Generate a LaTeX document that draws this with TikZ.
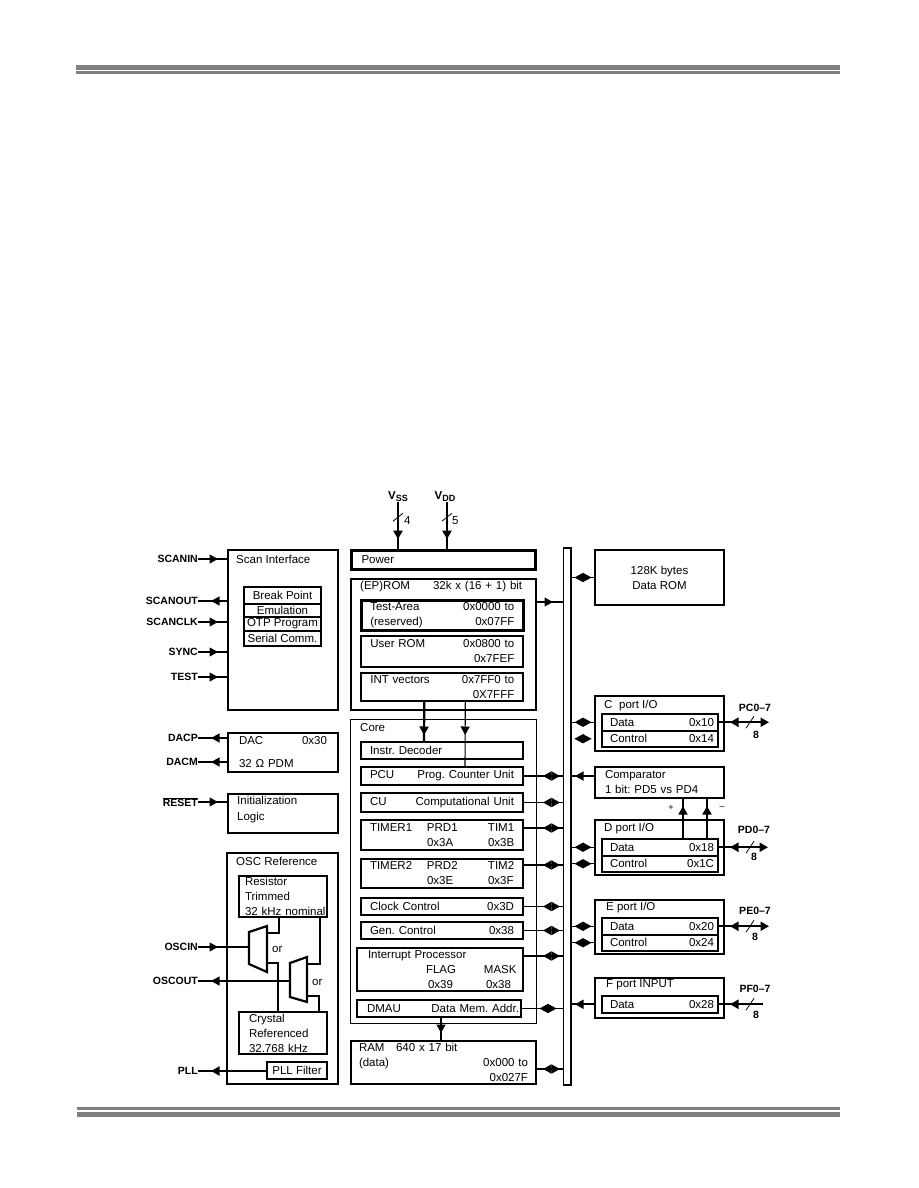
\documentclass[tikz,border=0pt]{standalone}
\usepackage{fontspec}
\setmainfont{Liberation Sans}
\frenchspacing
\usetikzlibrary{arrows.meta,positioning,calc,fit,decorations.markings}
\definecolor{rulegray}{RGB}{128,128,128}
\tikzset{
  tri/.tip={Triangle[length=8.5pt,width=9pt]},
  blk/.style={draw,line width=2pt,anchor=north west,inner sep=0pt,align=left,font=\fontsize{11.5}{15}\selectfont},
  blkthin/.style={blk,line width=1.2pt},
  inbox/.style={blk,minimum width=162pt,inner xsep=9pt,text width=144pt},
  portrow/.style={blk,minimum height=16.5pt,inner xsep=4pt,text width=108pt},
  scanrow/.style={blkthin,anchor=center,align=center,minimum width=76pt},
  txt/.style={anchor=west,inner sep=0pt,align=left,font=\fontsize{11.5}{15}\selectfont},
  pinlbl/.style={anchor=east,inner sep=0pt,font=\fontsize{10.5}{12}\selectfont\bfseries},
  portlbl/.style={anchor=center,inner sep=0pt,font=\fontsize{10.5}{12}\selectfont\bfseries},
  wire/.style={line width=1.1pt},
  fatwire/.style={line width=2.2pt},
  midwire/.style={line width=1.6pt},
  atip/.style={postaction={decorate,decoration={markings,mark=at position #1 with {\arrow{tri}}}}},
  ltip/.style={postaction={decorate,decoration={markings,mark=at position #1 with {\arrowreversed{tri}}}}},
  dtip/.style={postaction={decorate,decoration={markings,mark=at position #1 with {\pgftransformxshift{8.5pt}\arrow{tri}\pgftransformxshift{-17pt}\arrowreversed{tri}}}}},
  hslash/.style={postaction={decorate,decoration={markings,mark=at position #1 with {\draw[-,line width=.8pt] (-4pt,-6pt)--(4pt,6pt);}}}},
  vslash/.style={postaction={decorate,decoration={markings,mark=at position #1 with {\draw[-,line width=.8pt] (-4pt,5pt)--(4pt,-5pt);}}}}
}
\begin{document}
\begin{tikzpicture}[x=1pt,y=-1pt]
  \useasboundingbox (0,0) rectangle (918,1188);
  \fill[rulegray] (76,65) rectangle (840,70);
  \fill[rulegray] (76,71) rectangle (840,74);
  \fill[rulegray] (77,1107) rectangle (840,1110);
  \fill[rulegray] (77,1112) rectangle (840,1117);

  \node[blk,minimum width=110pt,minimum height=160pt] (scan) at (227,549) {};
  \node[txt] (scantxt) at ($(scan.north west)+(9,10)$) {Scan Interface};
  \node[scanrow,minimum height=15.8pt] (brk) at (282.5,595.5) {Break Point};
  \node[scanrow,minimum height=11.8pt,below=0pt of brk] (emu) {Emulation};
  \node[scanrow,minimum height=12.8pt,below=0pt of emu] (otp) {OTP Program};
  \node[scanrow,minimum height=13.8pt,below=0pt of otp] (ser) {Serial Comm.};
  \node[blk,anchor=center,fit=(brk)(ser)] (scanbox) {};
  \node[blk,minimum width=110pt,minimum height=39pt,inner xsep=11pt,text width=88pt] (dac) at (227,732) {DAC\hfill 0x30\\[8pt]32 Ω PDM};
  \node[blk,minimum width=110pt,minimum height=39pt] (init) at (227,793) {};
  \node[txt,font=\fontsize{11.5}{16}\selectfont] (inittxt) at ($(init.north west)+(10,17)$) {Initialization\\Logic};
  \node[blkthin,line width=1.6pt,minimum width=111.4pt,minimum height=231.4pt] (osc) at (226,852) {};
  \node[txt] (osctxt) at ($(osc.north west)+(10,9)$) {OSC Reference};
  \node[blk,line width=2.4pt,minimum width=87.6pt,minimum height=40.6pt,inner xsep=5.8pt,text width=76pt] (res) at (238,875) {Resistor\\Trimmed\\\mbox{32 kHz nominal}};
  \node[blk,minimum width=88pt,minimum height=42pt,inner xsep=10pt,text width=68pt] (crystal) at (238,1011) {Crystal\\Referenced\\32.768 kHz};
  \node[blk,minimum width=60pt,minimum height=17pt,align=center] (pllf) at (266,1061) {PLL Filter};
  \node[txt] (or1) at (272,949) {or};
  \node[txt] (or2) at (312,982) {or};
  \draw[line width=2.2pt,fill=white] (249,932)--(267,926)--(267,972)--(249,964)--cycle;
  \draw[line width=2.2pt,fill=white] (290,963)--(307,957)--(307,1002)--(290,997)--cycle;
  \coordinate (m1in) at (249,947);
  \coordinate (m1t) at (267,933);
  \coordinate (m1b) at (267,963);
  \coordinate (m2out) at (290,981);
  \coordinate (m2t) at (307,964);
  \coordinate (m2b) at (307,996);
  \draw[fatwire] (m1t) -| ($(res.south west)+(41,0)$);
  \draw[wire] (m1b) -| ($(crystal.north west)+(40,0)$);
  \draw[wire] (m2t) -| ($(res.south east)+(-8,0)$);
  \draw[wire] (m2b) -| ($(crystal.north east)+(-9,0)$);

  \node[pinlbl] (scanin) at ($(scan.north west)+(-29,10)$) {SCANIN};
  \node[pinlbl] (scanout) at ($(scan.north west)+(-29,52)$) {SCANOUT};
  \node[pinlbl] (scanclk) at ($(scan.north west)+(-29,73)$) {SCANCLK};
  \node[pinlbl] (sync) at ($(scan.north west)+(-29,103)$) {SYNC};
  \node[pinlbl] (test) at ($(scan.north west)+(-29,128)$) {TEST};
  \node[pinlbl] (dacp) at ($(dac.north west)+(-29,6)$) {DACP};
  \node[pinlbl] (dacm) at ($(dac.north west)+(-29,30)$) {DACM};
  \node[pinlbl] (reset) at ($(init.north west)+(-29,9)$) {$\overline{\mbox{RESET}}$};
  \node[pinlbl] (oscin) at (198,947) {OSCIN};
  \node[pinlbl] (oscout) at (198,981) {OSCOUT};
  \node[pinlbl] (pll) at (198,1071) {PLL};
  \draw[wire,atip=20pt] (scanin.east)--(scanin.east -| scan.west);
  \draw[wire,atip=16pt] (scanout.east -| scan.west)--(scanout.east);
  \draw[wire,atip=20pt] (scanclk.east)--(scanclk.east -| scan.west);
  \draw[wire,atip=20pt] (sync.east)--(sync.east -| scan.west);
  \draw[wire,atip=20pt] (test.east)--(test.east -| scan.west);
  \draw[wire,atip=16pt] (dacp.east -| dac.west)--(dacp.east);
  \draw[wire,atip=16pt] (dacm.east -| dac.west)--(dacm.east);
  \draw[wire,atip=20pt] (reset.east)--(reset.east -| init.west);
  \draw[wire,atip=20pt] (oscin.east)--(m1in);
  \draw[wire,atip=-13pt] (m2out)--(oscout.east);
  \draw[fatwire,atip=-13pt] (pllf.west |- pll.east)--(pll.east);

  \node[blk,line width=2.6pt,minimum width=184.4pt,minimum height=19.4pt,inner xsep=10pt,text width=164pt] (power) at (350,549) {Power};
  \node[blkthin,line width=1.6pt,minimum width=185.4pt,minimum height=131.4pt,below=7pt of power] (rom) {};
  \node[txt,text width=162pt] (romtxt) at ($(rom.north west)+(10,9)$) {(EP)ROM\hfill 32k x (16 + 1) bit};
  \node[inbox,line width=2.6pt,minimum height=30.4pt] (area) at (360,599) {Test-Area\hfill 0x0000 to\\(reserved)\hfill 0x07FF};
  \node[inbox,minimum height=31pt,below=3pt of area] (user) {User ROM\hfill 0x0800 to\\\mbox{}\hfill 0x7FEF};
  \node[inbox,minimum height=28pt,below=4pt of user] (vect) {INT vectors\hfill 0x7FF0 to\\\mbox{}\hfill 0X7FFF};
  \node[blkthin,minimum width=185.8pt,minimum height=304pt,below=8pt of rom] (core) {};
  \node[txt] (coretxt) at ($(core.north west)+(10,9)$) {Core};
  \node[inbox,minimum height=17pt] (dec) at (360,741) {Instr. Decoder};
  \node[inbox,minimum height=18pt] (pcu) at (360,766) {PCU\hfill Prog. Counter Unit};
  \node[inbox,minimum height=19pt] (cu) at (360,792) {CU\hfill Computational Unit};
  \node[inbox,minimum height=30pt] (timer1) at (360,819) {\makebox[57pt][l]{TIMER1}\makebox[61pt][l]{PRD1}TIM1\\\hspace*{57pt}\makebox[61pt][l]{0x3A}0x3B};
  \node[inbox,minimum height=29pt] (timer2) at (360,858) {\makebox[57pt][l]{TIMER2}\makebox[61pt][l]{PRD2}TIM2\\\hspace*{57pt}\makebox[61pt][l]{0x3E}0x3F};
  \node[inbox,minimum height=17pt] (clock) at (360,897) {Clock Control\hfill 0x3D};
  \node[inbox,minimum height=17pt] (gen) at (360,921) {Gen. Control\hfill 0x38};
  \node[inbox,minimum width=166pt,minimum height=43pt,inner xsep=11pt,text width=144pt] (intr) at (356,947) {Interrupt Processor\\\hspace*{58pt}\makebox[58pt][l]{FLAG}MASK\\\hspace*{60pt}\makebox[58pt][l]{0x39}0x38};
  \node[inbox,minimum width=164pt,minimum height=17pt,inner xsep=2pt,text width=160pt] (dmau) at (356,999) {\hspace*{8pt}DMAU\hfill Data Mem. Addr.};
  \node[blk,minimum width=185pt,minimum height=43pt,inner xsep=8pt,text width=169pt] (ram) at (350,1040) {RAM\hspace{1em}640 x 17 bit\\(data)\hfill 0x000 to\\\mbox{}\hfill 0x027F};

  \node[inner sep=0pt,font=\fontsize{11.5}{14}\selectfont\bfseries] (vss) at (398,497) {V\raisebox{-2pt}{\small SS}};
  \node[inner sep=0pt,font=\fontsize{11.5}{14}\selectfont\bfseries] (vdd) at (445,497) {V\raisebox{-2pt}{\small DD}};
  \node[txt] (vssn) at (404,521) {4};
  \node[txt] (vddn) at (452,521) {5};
  \coordinate (vddtop) at ($(vdd.south)+(2,0)$);
  \draw[fatwire,vslash=15pt,atip=37pt] (vss.south)--(vss.south |- power.north);
  \draw[fatwire,vslash=15pt,atip=37pt] (vddtop)--(vddtop |- power.north);
  \draw[fatwire,atip=33pt] ($(vect.south west)+(64,0)$)--($(dec.north west)+(64,0)$);
  \draw[wire,atip=33pt] ($(vect.south west)+(105,0)$)--($(pcu.north west)+(105,0)$);
  \draw[wire,atip=15pt] ($(dmau.south west)+(85,0)$)--($(ram.north west)+(91,0)$);

  \node[draw,line width=1pt,inner sep=0pt,anchor=north west,minimum width=7pt,minimum height=536pt] (bus) at (563,548) {};
  \draw[line width=2.4pt] (bus.north west)--(bus.north east)--(bus.south east)--(bus.south west);
  \coordinate (romr) at ($(rom.north east)+(0,24)$);
  \coordinate (t1r) at ($(timer1.north east)+(0,9)$);
  \coordinate (t2r) at ($(timer2.north east)+(0,7)$);
  \coordinate (intr1) at ($(intr.north east)+(0,9)$);
  \coordinate (ramr) at ($(ram.north east)+(0,29)$);
  \draw[wire,atip=16pt] (romr)--(bus.west |- romr);
  \draw[midwire,dtip=27.5pt] (pcu.east)--(bus.west |- pcu.east);
  \draw[midwire,dtip=27.5pt] (cu.east)--(bus.west |- cu.east);
  \draw[midwire,dtip=27.5pt] (t1r)--(bus.west |- t1r);
  \draw[midwire,dtip=27.5pt] (t2r)--(bus.west |- t2r);
  \draw[midwire,dtip=27.5pt] (clock.east)--(bus.west |- clock.east);
  \draw[midwire,dtip=27.5pt] (gen.east)--(bus.west |- gen.east);
  \draw[midwire,dtip=27.5pt] (intr1)--(bus.west |- intr1);
  \draw[wire,dtip=26pt] (dmau.east)--(bus.west |- dmau.east);
  \draw[midwire,dtip=14.5pt] (ramr)--(bus.west |- ramr);

  \node[blk,minimum width=129pt,minimum height=55pt,align=center] (drom) at (594,549) {128K bytes\\Data ROM};
  \node[blk,minimum width=129pt,minimum height=55pt] (cport) at (594,695) {};
  \node[txt] (ctxt) at ($(cport.north west)+(10,11)$) {C\hspace{.3em} port I/O};
  \node[portrow] (cdata) at ($(cport.north west)+(7,18)$) {\hspace*{4pt}Data\hfill 0x10};
  \node[portrow,below=-2pt of cdata] (cctrl) {\hspace*{4pt}Control\hfill 0x14};
  \node[blkthin,line width=1.6pt,minimum width=129.4pt,minimum height=31.4pt,inner xsep=10pt,text width=109pt] (comp) at (594,766) {Comparator\\1 bit: PD5 vs PD4};
  \node[blk,minimum width=129pt,minimum height=55pt] (dport) at (594,819) {};
  \node[txt] (dtxt) at ($(dport.north west)+(10,10)$) {D port I/O};
  \node[portrow] (ddata) at ($(dport.north west)+(7,19)$) {\hspace*{4pt}Data\hfill 0x18};
  \node[portrow,below=-2pt of ddata] (dctrl) {\hspace*{4pt}Control\hfill 0x1C};
  \node[blkthin,line width=1.6pt,minimum width=129.4pt,minimum height=54.4pt] (eport) at (594,899) {};
  \node[txt] (etxt) at ($(eport.north west)+(12,9)$) {E port I/O};
  \node[portrow] (edata) at ($(eport.north west)+(7,18)$) {\hspace*{4pt}Data\hfill 0x20};
  \node[portrow,below=-2pt of edata] (ectrl) {\hspace*{4pt}Control\hfill 0x24};
  \node[blkthin,line width=1.6pt,minimum width=129.4pt,minimum height=40.4pt] (fport) at (594,977) {};
  \node[txt] (ftxt) at ($(fport.north west)+(12,8)$) {F port INPUT};
  \node[portrow] (fdata) at ($(fport.north west)+(7,18)$) {\hspace*{4pt}Data\hfill 0x28};

  \coordinate (compr) at ($(comp.north west)+(0,10)$);
  \coordinate (fr) at (fport.west |- fdata.west);
  \draw[wire,dtip=12pt] (bus.east |- drom.west)--(drom.west);
  \draw[wire,dtip=12pt] (bus.east |- cdata.west)--(cport.west |- cdata.west);
  \path[dtip=12pt] (bus.east |- cctrl.west)--(cport.west |- cctrl.west);
  \draw[midwire,atip=-4pt] (compr)--(bus.east |- compr);
  \draw[wire,dtip=12pt] (bus.east |- ddata.west)--(dport.west |- ddata.west);
  \draw[wire,dtip=12pt] (bus.east |- dctrl.west)--(dport.west |- dctrl.west);
  \draw[wire,dtip=12pt] (bus.east |- edata.west)--(eport.west |- edata.west);
  \draw[wire,dtip=12pt] (bus.east |- ectrl.west)--(eport.west |- ectrl.west);
  \draw[midwire,atip=-4pt] (fr)--(bus.east |- fr);

  \draw[wire,atip=32pt] ($(ddata.north west)+(82,0)$)--($(comp.south west)+(89,0)$);
  \draw[midwire,atip=32pt] ($(ddata.north west)+(106,0)$)--($(comp.south west)+(113,0)$);
  \node[inner sep=0pt,font=\small] (plus) at (671,808) {+};
  \node[inner sep=0pt,font=\small] (minus) at (722,808) {--};

  \node[portlbl] (pc) at (755,708) {PC0--7};
  \node[portlbl] (pd) at (754,830) {PD0--7};
  \node[portlbl] (pe) at (755,911) {PE0--7};
  \node[portlbl] (pf) at (755,989) {PF0--7};
  \node[portlbl] (pcn) at (756,735) {8};
  \node[portlbl] (pdn) at (754,857) {8};
  \node[portlbl] (pen) at (755,937) {8};
  \node[portlbl] (pfn) at (756,1015) {8};
  \coordinate (pcend) at ($(cdata.east)+(50,0)$);
  \coordinate (pdend) at ($(ddata.east)+(49,0)$);
  \coordinate (peend) at ($(edata.east)+(50,0)$);
  \coordinate (pfend) at ($(fdata.east)+(44,0)$);
  \draw[fatwire,-tri,ltip=11pt,hslash=31pt] (cdata.east)--(pcend);
  \draw[fatwire,-tri,ltip=11pt,hslash=31pt] (ddata.east)--(pdend);
  \draw[fatwire,-tri,ltip=11pt,hslash=31pt] (edata.east)--(peend);
  \draw[fatwire,ltip=11pt,hslash=31pt] (fdata.east)--(pfend);
\end{tikzpicture}
\end{document}
